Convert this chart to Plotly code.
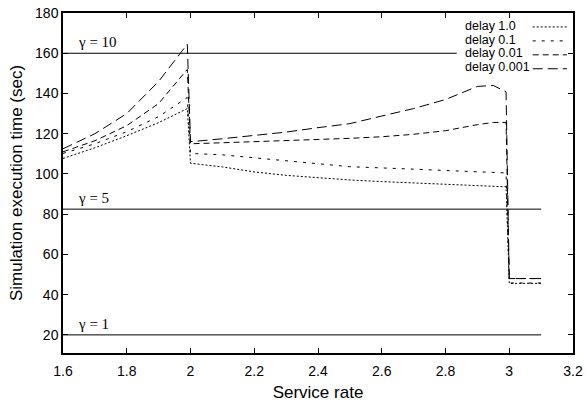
import plotly.graph_objects as go

# ---- data ----
service_rate = [1.6, 1.7, 1.8, 1.9, 1.99, 2.0, 2.1, 2.2, 2.3, 2.4, 2.5, 2.6, 2.7, 2.8, 2.9, 2.95, 2.99, 3.0, 3.1]
delay_1_0 = [107.7, 113, 119, 125.5, 132.5, 105.3, 103.5, 101, 99.3, 98, 97, 96.2, 95.5, 94.8, 94, 93.8, 93.6, 45.6, 45.6]
delay_0_1 = [110.2, 115, 121, 128.5, 138, 110.2, 109.5, 108, 106.3, 105, 103.6, 103, 102.3, 101.7, 101, 100.7, 100.5, 45.8, 45.8]
delay_0_01 = [111, 116.5, 124, 135, 152, 115, 115.5, 116, 116.5, 117, 117.7, 118.5, 119.7, 121.5, 124.5, 125.6, 125.6, 48, 48]
delay_0_001 = [112.5, 120, 130, 146, 164.5, 116, 117.5, 119, 120.8, 123, 125, 128.8, 132.5, 137, 143.5, 144, 140.8, 48, 48]

series_names = ["delay 1.0", "delay 0.1", "delay 0.01", "delay 0.001"]
series_values = [delay_1_0, delay_0_1, delay_0_01, delay_0_001]
series_dash = ["2px,2px", "3px,6px", "6px,4px", "10px,5px"]

gamma_labels = ["γ = 10", "γ = 5", "γ = 1"]
gamma_levels = [160, 82.5, 20]
gamma_x = [1.6, 3.1]

x_ticks = [1.6, 1.8, 2.0, 2.2, 2.4, 2.6, 2.8, 3.0, 3.2]
x_tick_text = ["1.6", "1.8", "2", "2.2", "2.4", "2.6", "2.8", "3", "3.2"]
y_ticks = [20, 40, 60, 80, 100, 120, 140, 160, 180]

fig = go.Figure()

for lvl in gamma_levels:
    fig.add_trace(go.Scatter(x=gamma_x, y=[lvl, lvl], mode="lines",
                             line=dict(color="black", width=1), showlegend=False,
                             hoverinfo="skip"))

for name, vals, dash in zip(series_names, series_values, series_dash):
    fig.add_trace(go.Scatter(x=service_rate, y=vals, mode="lines", name=name,
                             line=dict(color="black", width=1, dash=dash),
                             showlegend=False))

# gamma labels
for lab, lvl in zip(gamma_labels, gamma_levels):
    fig.add_annotation(x=1.64, y=lvl, xref="x", yref="y", text=lab, showarrow=False,
                       xanchor="left", yanchor="bottom", yshift=1,
                       font=dict(family="Liberation Serif", size=15, color="black"))

# custom gnuplot-style key (text then sample)
shapes = [dict(type="rect", xref="paper", yref="paper", x0=0.772, x1=0.99, y0=0.815, y1=0.975,
               fillcolor="white", line=dict(width=0), layer="above")]
text_y = [0.963, 0.922, 0.881, 0.840]
sample_y = [0.959, 0.918, 0.877, 0.836]
for name, dash, ty, sy in zip(series_names, series_dash, text_y, sample_y):
    fig.add_annotation(x=0.786, y=ty, xref="paper", yref="paper", text=name, showarrow=False,
                       xanchor="left", yanchor="middle", borderpad=0,
                       font=dict(family="Liberation Sans", size=12.5, color="black"))
    shapes.append(dict(type="line", xref="paper", yref="paper", x0=0.921, x1=0.988,
                       y0=sy, y1=sy, line=dict(color="black", width=1, dash=dash),
                       layer="above"))

fig.update_layout(
    width=586, height=403,
    margin=dict(l=63, r=13, t=13, b=50, autoexpand=False),
    plot_bgcolor="white", paper_bgcolor="white",
    font=dict(family="Liberation Sans", size=14, color="black"),
    shapes=shapes,
    showlegend=False,
)
fig.update_xaxes(range=[1.6, 3.2], tickvals=x_ticks, ticktext=x_tick_text,
                 ticks="inside", ticklen=5, tickcolor="black", mirror="ticks",
                 ticklabelstandoff=4, automargin=False,
                 showline=True, linecolor="black", linewidth=1.5, showgrid=False,
                 zeroline=False, title=dict(text="Service rate", standoff=9))
fig.update_yaxes(range=[11, 180], tickvals=y_ticks, automargin=False,
                 ticks="inside", ticklen=5, tickcolor="black", mirror="ticks",
                 showline=True, linecolor="black", linewidth=1.5, showgrid=False,
                 zeroline=False, title=dict(text="Simulation execution time (sec)", standoff=8))

fig.write_html("out.html")
